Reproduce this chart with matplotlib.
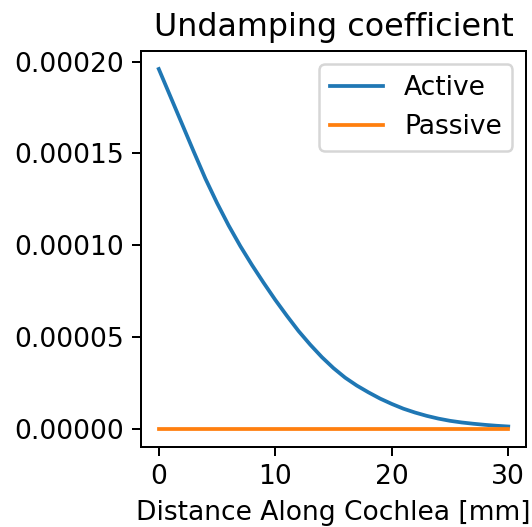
import matplotlib
matplotlib.use("Agg")
import matplotlib.pyplot as plt

plt.rcParams["font.size"] = 10.6

# distance along cochlea (mm) and undamping coefficient
distance = [0, 1, 2, 3, 4, 5, 6, 7, 8, 9, 10, 11, 12, 13, 14, 15,
            16, 17, 18, 19, 20, 21, 22, 23, 24, 25, 26, 27, 28, 29, 30]
active = [0.000196, 0.000181, 0.000166, 0.000151, 0.0001363, 0.000123,
          0.0001107, 0.0000995, 0.0000892, 0.0000795, 0.0000702, 0.0000615,
          0.0000532, 0.0000458, 0.000039, 0.000033, 0.0000278, 0.0000235,
          0.0000198, 0.0000164, 0.0000135, 0.0000109, 0.0000088, 0.0000070,
          0.0000055, 0.0000043, 0.0000034, 0.0000027, 0.0000021, 0.0000016,
          0.0000012]
passive = [0.0] * len(distance)

fig = plt.figure(figsize=(532 / 180, 527 / 180), dpi=180)
ax = fig.add_axes([0.2656, 0.1524, 0.7226, 0.7508])

ax.plot(distance, active, label="Active")
ax.plot(distance, passive, label="Passive")
ax.set_title("Undamping coefficient")
ax.set_xlabel("Distance Along Cochlea [mm]")
ax.set_xticks([0, 10, 20, 30])
ax.set_yticks([0, 0.00005, 0.0001, 0.00015, 0.0002])
ax.set_yticklabels(["0.00000", "0.00005", "0.00010", "0.00015", "0.00020"])
ax.legend(loc="upper right")

fig.savefig("out.png", dpi=180)
